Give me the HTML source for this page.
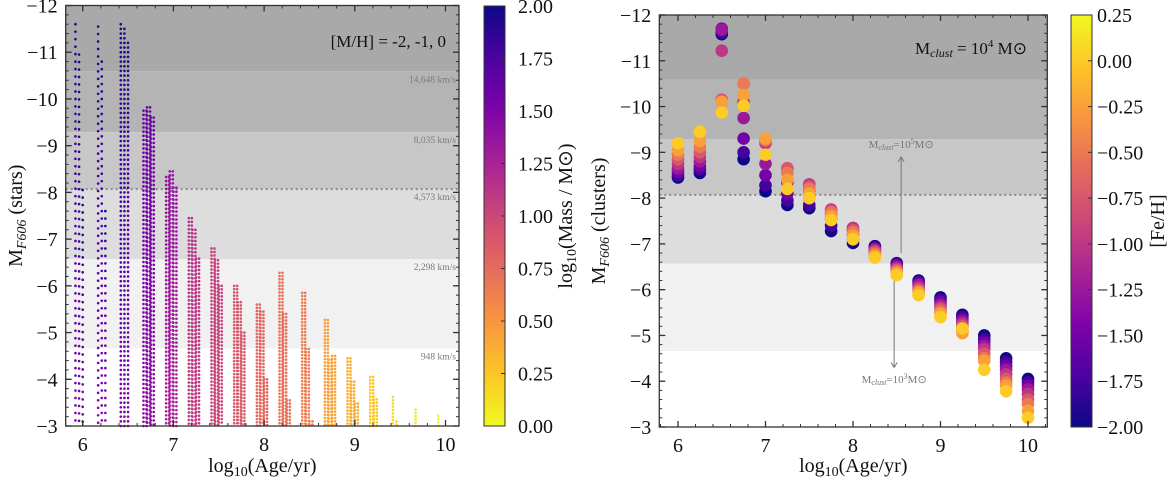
<!DOCTYPE html>
<html><head><meta charset="utf-8">
<style>
html,body{margin:0;padding:0;background:#fff;}
svg{display:block;font-family:"Liberation Serif",serif;}
</style></head>
<body>
<svg id="fig" width="1170" height="480" viewBox="0 0 1170 480" xmlns="http://www.w3.org/2000/svg">
<defs>
<linearGradient id="cbL" x1="0" y1="1" x2="0" y2="0">
<stop offset="0" stop-color="#f0f921"/><stop offset="0.125" stop-color="#fdc527"/><stop offset="0.25" stop-color="#f89540"/><stop offset="0.375" stop-color="#e56b5d"/><stop offset="0.5" stop-color="#cc4778"/><stop offset="0.625" stop-color="#a92395"/><stop offset="0.75" stop-color="#7e03a8"/><stop offset="0.875" stop-color="#4c02a1"/><stop offset="1" stop-color="#0d0887"/>
</linearGradient>
<linearGradient id="cbR" x1="0" y1="1" x2="0" y2="0">
<stop offset="0" stop-color="#0d0887"/><stop offset="0.125" stop-color="#4c02a1"/><stop offset="0.25" stop-color="#7e03a8"/><stop offset="0.375" stop-color="#a92395"/><stop offset="0.5" stop-color="#cc4778"/><stop offset="0.625" stop-color="#e56b5d"/><stop offset="0.75" stop-color="#f89540"/><stop offset="0.875" stop-color="#fdc527"/><stop offset="1" stop-color="#f0f921"/>
</linearGradient>
</defs>
<g id="left"></g>
<g id="right"></g>
</svg>
<script>
// ---- shared band data (magnitudes) ----
const bandEdges = [-10.59, -9.29, -8.07, -6.57, -4.66];
const bandLabels = ["14,648 km/s", "8,035 km/s", "4,573 km/s", "2,298 km/s", "948 km/s"];
const yTicks = [-12, -11, -10, -9, -8, -7, -6, -5, -4, -3];
const xTicks = [6, 7, 8, 9, 10];
const massTicks = [0, 0.25, 0.5, 0.75, 1.0, 1.25, 1.5, 1.75, 2.0];
const fehTicks = [-2, -1.75, -1.5, -1.25, -1.0, -0.75, -0.5, -0.25, 0, 0.25];

// ---- left panel data ----
const starAges = [6,6.25,6.5,6.75,7,7.25,7.5,7.75,8,8.25,8.5,8.75,9,9.25,9.5,9.75,10];
const starTopLow = [-11.6,-11.55,-11.6,-9.75,-8.33,-7.45,-6.8,-6.0,-5.6,-6.28,-5.85,-5.27,-4.45,-4.05,-3.62,-3.35,-3.22];
const starTopMid = [-10.95,-10.8,-11.5,-9.82,-8.45,-7.2,-6.55,-5.65,-5.45,-5.4,-4.65,-4.42,-3.95,-3.57,-3.1,null,null];
const starTopHigh = [-8.05,-7.6,-11.2,-9.6,-8.1,-6.58,-6.0,-5.0,-4.0,-3.55,-3.1,-4.5,-3.48,null,null,null,null];
const starMassTop = [1.97,1.95,1.95,1.6,1.38,1.15,1.05,0.9,0.8,0.72,0.65,0.45,0.38,0.25,0.15,0.08,0.02];
const starMassBottom = [1.5,1.45,1.5,1.4,1.25,1.08,1.0,0.85,0.76,0.7,0.62,0.43,0.36,0.24,0.14,0.08,0.02];
const starSpacing = [0.16,0.16,0.1,0.09,0.085,0.08,0.075,0.07,0.07,0.07,0.07,0.07,0.07,0.07,0.07,0.07,0.07];
const starWidth = [1,1,1,2,2,2,2,2,2,2,2,2,2,2,1,1,1];

// ---- right panel data ----
const clusterAges = [6,6.25,6.5,6.75,7,7.25,7.5,7.75,8,8.25,8.5,8.75,9,9.25,9.5,9.75,10];
const fehValues = [-2,-1.75,-1.5,-1.25,-1,-0.75,-0.5,-0.25,0];
const clusterMags = [
 [-8.45,-8.5,-8.58,-8.65,-8.75,-8.85,-8.95,-9.05,-9.2],
 [-8.55,-8.62,-8.7,-8.8,-8.9,-9.0,-9.12,-9.25,-9.45],
 [-11.58,-11.62,-11.7,-11.68,-11.22,-10.15,-10.1,-10.1,-9.87],
 [-8.85,-9.0,-9.3,-9.75,-10.1,-10.5,-10.5,-10.25,-10.02],
 [-8.15,-8.28,-8.5,-8.75,-9.2,-9.25,-9.28,-9.3,-8.95],
 [-7.85,-7.95,-8.1,-8.35,-8.65,-8.65,-8.55,-8.4,-8.2],
 [-7.78,-7.85,-8.0,-8.15,-8.3,-8.25,-8.2,-8.1,-8.0],
 [-7.28,-7.4,-7.55,-7.65,-7.75,-7.72,-7.68,-7.6,-7.52],
 [-7.02,-7.1,-7.2,-7.3,-7.35,-7.3,-7.25,-7.18,-7.1],
 [-6.95,-6.92,-6.9,-6.88,-6.85,-6.82,-6.78,-6.74,-6.7],
 [-6.58,-6.56,-6.53,-6.5,-6.46,-6.43,-6.4,-6.36,-6.32],
 [-6.2,-6.17,-6.13,-6.1,-6.05,-6.0,-5.97,-5.93,-5.88],
 [-5.83,-5.78,-5.73,-5.67,-5.62,-5.57,-5.52,-5.47,-5.4],
 [-5.45,-5.4,-5.35,-5.3,-5.25,-5.2,-5.12,-5.05,-5.15],
 [-5.0,-4.92,-4.85,-4.77,-4.7,-4.6,-4.5,-4.45,-4.25],
 [-4.5,-4.42,-4.33,-4.25,-4.15,-4.05,-3.97,-3.9,-3.78],
 [-4.05,-3.98,-3.9,-3.82,-3.72,-3.6,-3.5,-3.35,-3.2]
];

const NS = "http://www.w3.org/2000/svg";
function mk(parent, tag, attrs, text) {
  const e = document.createElementNS(NS, tag);
  for (const k in attrs) e.setAttribute(k, attrs[k]);
  if (text !== undefined) e.textContent = text;
  parent.appendChild(e);
  return e;
}
const plasmaStops = ["#0d0887","#4c02a1","#7e03a8","#a92395","#cc4778","#e56b5d","#f89540","#fdc527","#f0f921"];
function plasma(t) {
  t = Math.max(0, Math.min(1, t));
  const p = t * 8, i = Math.min(7, Math.floor(p)), f = p - i;
  const a = plasmaStops[i], b = plasmaStops[i+1];
  const c = [1,3,5].map(k => Math.round(parseInt(a.substr(k,2),16)*(1-f) + parseInt(b.substr(k,2),16)*f));
  return "rgb(" + c.join(",") + ")";
}
function fmtMinus(v, d) { const s = Math.abs(v).toFixed(d); return (v < 0 ? "\u2212" : "") + s; }

function drawPanel(g, ax) {
  const {x0, x1, y0, y1, xv, yv} = ax;
  const fills = ["#a9a9a9", "#b4b4b4", "#c7c7c7", "#dddddd", "#f1f1f1"];
  const edges = [-12].concat(bandEdges);
  for (let i = 0; i < 5; i++) {
    const r = mk(g, "rect", {x: x0, y: yv(edges[i]), width: x1 - x0, height: yv(edges[i+1]) - yv(edges[i]), fill: fills[i]});
    
    
  }
  const dl = mk(g, "line", {x1: x0, x2: x1, y1: yv(bandEdges[2]), y2: yv(bandEdges[2]), stroke: "#888", "stroke-width": 2, "stroke-dasharray": "2,3"});
  
  
}
function drawAxes(g, ax, ylabel) {
  const {x0, x1, y0, y1, xv, yv} = ax;
  const fr = mk(g, "rect", {x: x0, y: y0, width: x1 - x0, height: y1 - y0, fill: "none", stroke: "#333", "stroke-width": 1.3});
  
  
  for (let v = 5.8; v <= 10.25; v += 0.2) {
    const X = xv(Math.round(v*10)/10);
    if (X < x0 + 1 || X > x1 - 1) continue;
    mk(g, "line", {x1: X, x2: X, y1: y1, y2: y1 - 3, stroke: "#333", "stroke-width": 1});
    mk(g, "line", {x1: X, x2: X, y1: y0, y2: y0 + 3, stroke: "#333", "stroke-width": 1});
  }
  for (let v = -12; v <= -3; v += 0.2) {
    const Y = yv(v);
    mk(g, "line", {x1: x0, x2: x0 + 3, y1: Y, y2: Y, stroke: "#333", "stroke-width": 1});
    mk(g, "line", {x1: x1, x2: x1 - 3, y1: Y, y2: Y, stroke: "#333", "stroke-width": 1});
  }
  xTicks.forEach(v => {
    const X = xv(v);
    mk(g, "line", {x1: X, x2: X, y1: y1, y2: y1 - 6, stroke: "#333", "stroke-width": 1.3});
    mk(g, "line", {x1: X, x2: X, y1: y0, y2: y0 + 6, stroke: "#333", "stroke-width": 1.3});
    const t = mk(g, "text", {x: X, y: y1 + 25, "font-size": 20, "text-anchor": "middle", fill: "#111"}, String(v));
    
    
  });
  yTicks.forEach(v => {
    const Y = yv(v);
    mk(g, "line", {x1: x0, x2: x0 + 6, y1: Y, y2: Y, stroke: "#333", "stroke-width": 1.3});
    mk(g, "line", {x1: x1, x2: x1 - 6, y1: Y, y2: Y, stroke: "#333", "stroke-width": 1.3});
    const t = mk(g, "text", {x: x0 - 8, y: Y + 7, "font-size": 20, "text-anchor": "end", fill: "#111"}, fmtMinus(v, 0));
    
    
  });
  const xl = mk(g, "text", {x: (x0 + x1) / 2, y: 472, "font-size": 20, "text-anchor": "middle", fill: "#111"});
  
  
  xl.innerHTML = 'log<tspan font-size="14" dy="4">10</tspan><tspan dy="-4">(Age/yr)</tspan>';
  const yl = mk(g, "text", {x: 0, y: 0, "font-size": 20, "text-anchor": "middle", fill: "#111", transform: "translate(" + ax.ylx + "," + ((y0 + y1) / 2) + ") rotate(-90)"});
  
  
  yl.innerHTML = 'M<tspan font-size="14" font-style="italic" dy="4">F606</tspan><tspan dy="-4"> (' + ylabel + ')</tspan>';
}

// ===== LEFT =====
const L = {x0: 65.7, x1: 459, y0: 5.5, y1: 426, ylx: 22};
L.xv = v => 82.7 + (v - 6) * 90.7;
L.yv = v => L.y0 + (v + 12) * (L.y1 - L.y0) / 9;
const gl = document.getElementById("left");
drawPanel(gl, L);
bandLabels.forEach((s, i) => {
  const t = mk(gl, "text", {x: 456, y: L.yv(bandEdges[i]) + 11, "font-size": 9.5, "text-anchor": "end", fill: "#7a7a7a"}, s);
  
  
});
const starG = mk(gl, "g", {});


const colOffsets = [-0.08, -0.04, 0];
starAges.forEach((age, i) => {
  [starTopLow[i], starTopMid[i], starTopHigh[i]].forEach((top, c) => {
    if (top === null) return;
    const X = L.xv(age + colOffsets[c]);
    for (let m = top; m <= -3.0; m += starSpacing[i]) {
      const f = (m - top) / Math.max(0.01, (-3 - top));
      const mass = starMassTop[i] + (starMassBottom[i] - starMassTop[i]) * f;
      for (let w = 0; w < starWidth[i]; w++) {
        const d = mk(starG, "circle", {cx: X + w * 3, cy: L.yv(m), r: 1.3, fill: plasma(1 - mass / 2)});
        
        
      }
    }
  });
});
drawAxes(gl, L, "stars");
const annL = mk(gl, "text", {x: 446, y: 47, "font-size": 17, "text-anchor": "end", fill: "#111"}, "[M/H] = -2, -1, 0");


const cbl = mk(gl, "rect", {x: 484, y: 6, width: 21, height: 420, fill: "url(#cbL)", stroke: "#333", "stroke-width": 1});


massTicks.forEach(v => {
  const Y = 426 - v / 2 * 420;
  mk(gl, "line", {x1: 505, x2: 501, y1: Y, y2: Y, stroke: "#333", "stroke-width": 1});
  const t = mk(gl, "text", {x: 518, y: Y + 7, "font-size": 20, fill: "#111"}, v.toFixed(2));
  
  
});
const cblab = mk(gl, "text", {x: 0, y: 0, "font-size": 20, "text-anchor": "middle", fill: "#111", transform: "translate(572,216) rotate(-90)"});


cblab.innerHTML = 'log<tspan font-size="14" dy="4">10</tspan><tspan dy="-4">(Mass / M</tspan><tspan>\u2299</tspan><tspan>)</tspan>';

// ===== RIGHT =====
const R = {x0: 659.3, x1: 1047.3, y0: 15, y1: 427, ylx: 605};
R.xv = v => 678 + (v - 6) * 87.5;
R.yv = v => R.y0 + (v + 12) * (R.y1 - R.y0) / 9;
const gr = document.getElementById("right");
drawPanel(gr, R);
const ax1 = mk(gr, "line", {x1: R.xv(8.55), x2: R.xv(8.55), y1: R.yv(-6.8), y2: R.yv(-8.9), stroke: "#777", "stroke-width": 1});


mk(gr, "path", {d: "M" + (R.xv(8.55) - 3) + "," + (R.yv(-8.9) + 5) + " L" + R.xv(8.55) + "," + R.yv(-8.9) + " L" + (R.xv(8.55) + 3) + "," + (R.yv(-8.9) + 5), fill: "none", stroke: "#777", "stroke-width": 1});
const ax2 = mk(gr, "line", {x1: R.xv(8.47), x2: R.xv(8.47), y1: R.yv(-6.4), y2: R.yv(-4.3), stroke: "#777", "stroke-width": 1});


mk(gr, "path", {d: "M" + (R.xv(8.47) - 3) + "," + (R.yv(-4.3) - 5) + " L" + R.xv(8.47) + "," + R.yv(-4.3) + " L" + (R.xv(8.47) + 3) + "," + (R.yv(-4.3) - 5), fill: "none", stroke: "#777", "stroke-width": 1});
const l1 = mk(gr, "text", {x: R.xv(8.55), y: R.yv(-9.05) - 2, "font-size": 11, "text-anchor": "middle", fill: "#777"});


l1.innerHTML = 'M<tspan font-size="8" font-style="italic" dy="2">clust</tspan><tspan dy="-2">=10</tspan><tspan font-size="8" dy="-4">5</tspan><tspan dy="4">M\u2299</tspan>';
const l2 = mk(gr, "text", {x: R.xv(8.47), y: R.yv(-4.05) + 4, "font-size": 11, "text-anchor": "middle", fill: "#777"});


l2.innerHTML = 'M<tspan font-size="8" font-style="italic" dy="2">clust</tspan><tspan dy="-2">=10</tspan><tspan font-size="8" dy="-4">3</tspan><tspan dy="4">M\u2299</tspan>';
const clG = mk(gr, "g", {});


clusterAges.forEach((age, i) => {
  fehValues.forEach((feh, j) => {
    const d = mk(clG, "circle", {cx: R.xv(age), cy: R.yv(clusterMags[i][j]), r: 6.3, fill: plasma((feh + 2) / 2.25)});
    
    
  });
});
drawAxes(gr, R, "clusters");
const annR = mk(gr, "text", {x: 1027, y: 54, "font-size": 17, "text-anchor": "end", fill: "#111"});


annR.innerHTML = 'M<tspan font-size="12" font-style="italic" dy="3">clust</tspan><tspan dy="-3"> = 10</tspan><tspan font-size="11" dy="-7">4</tspan><tspan dy="7"> M\u2299</tspan>';
const cbr = mk(gr, "rect", {x: 1071, y: 15, width: 21, height: 412, fill: "url(#cbR)", stroke: "#333", "stroke-width": 1});


fehTicks.forEach(v => {
  const Y = 427 - (v + 2) / 2.25 * 412;
  mk(gr, "line", {x1: 1092, x2: 1088, y1: Y, y2: Y, stroke: "#333", "stroke-width": 1});
  const t = mk(gr, "text", {x: 1097, y: Y + 7, "font-size": 20, fill: "#111"}, fmtMinus(v, 2));
  
  
});
const cbrl = mk(gr, "text", {x: 0, y: 0, "font-size": 20, "text-anchor": "middle", fill: "#111", transform: "translate(1164,221) rotate(-90)"}, "[Fe/H]");


</script>
</body></html>
